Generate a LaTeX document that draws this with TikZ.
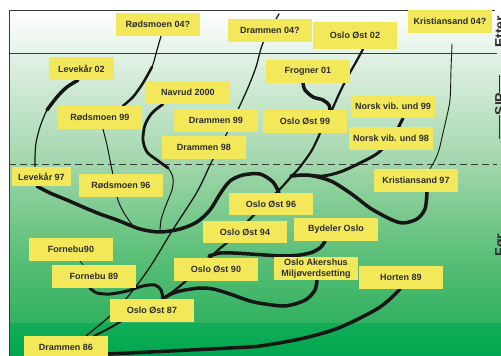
\documentclass[tikz,border=0pt]{standalone}
\usepackage{fontspec}
\setmainfont{Liberation Sans}
\definecolor{boxyellow}{HTML}{F2E85A}
\definecolor{txt}{HTML}{2E2E2E}
\definecolor{curve}{HTML}{161616}
\definecolor{framec}{HTML}{3A3A3A}
\definecolor{gA}{HTML}{E3F2E6}
\definecolor{gB}{HTML}{A0D6AA}
\definecolor{gC}{HTML}{5EC07A}
\definecolor{gD}{HTML}{30B160}
\definecolor{gE}{HTML}{12AD58}
\definecolor{gF}{HTML}{00A650}
\pgfdeclarelayer{back}
\pgfdeclarelayer{mid}
\pgfsetlayers{back,mid,main}
\begin{document}
\begin{tikzpicture}[x=1pt,y=-1pt,
  box/.style={fill=boxyellow, inner sep=0pt, minimum width=84pt, minimum height=23pt,
    font=\bfseries\fontsize{9}{10.5}\selectfont, text=txt, align=center},
  side/.style={rotate=90, anchor=north, inner sep=0pt, text=txt,
    font=\bfseries\fontsize{14}{14}\selectfont},
  br/.style={draw=curve, line cap=round, line join=round},
  thin/.style={br, line width=1pt},
  mid/.style={br, line width=2pt},
  thick/.style={br, line width=3.5pt},
  framel/.style={draw=framec, line width=0.9pt}]
\useasboundingbox (0,0) rectangle (501,356);

% boxes
\node[box] (r04) at (158,24.5) {Rødsmoen 04?};
\node[box] (d04) at (270,30.5) {Drammen 04?};
\node[box, minimum height=27pt] (o02) at (355,35.5) {Oslo Øst 02};
\node[box] (k04) at (450,21.5) {Kristiansand 04?};
\node[box, minimum width=65pt] (l02) at (81.5,68.5) {Levekår 02};
\node[box] (nav) at (188,92.5) {Navrud 2000};
\node[box] (r99) at (100,117.5) {Rødsmoen 99};
\node[box] (d99) at (216,120.5) {Drammen 99};
\node[box] (d98) at (204,147.5) {Drammen 98};
\node[box] (fro) at (308,71.5) {Frogner 01};
\node[box] (o99) at (305,121.5) {Oslo Øst 99};
\node[box] (n99) at (393,106.5) {Norsk vib. und 99};
\node[box] (n98) at (391,138.5) {Norsk vib. und 98};
\node[box] (k97) at (416,180.5) {Kristiansand 97};
\node[box, minimum width=59pt, minimum height=19pt] (l97) at (41.5,176.5) {Levekår 97};
\node[box] (r96) at (121,185.5) {Rødsmoen 96};
\node[box, minimum height=22pt] (o96) at (271,204) {Oslo Øst 96};
\node[box, minimum height=22pt] (o94) at (245,232) {Oslo Øst 94};
\node[box] (byd) at (336,229.5) {Bydeler Oslo};
\node[box] (o90) at (216,269.5) {Oslo Øst 90};
\node[box] (oam) at (316,268.5) {Oslo Akershus\\Miljøverdsetting};
\node[box] (hor) at (401,277.5) {Horten 89};
\node[box] (f90) at (71,249.5) {Fornebu90};
\node[box] (f89) at (94,276.5) {Fornebu 89};
\node[box] (o87) at (152,310.5) {Oslo Øst 87};
\node[box] (d86) at (66,347.5) {Drammen 86};

% side labels
\node[side] (etter) at (495,32) {Etter};
\node[side] (sip) at (495,107) {\rule[5pt]{24pt}{1pt}SIP\rule[5pt]{18pt}{1pt}};
\node[side] (foer) at (495,245) {Før};

% free ends and junctions
\coordinate (d04tip) at (279,14);
\coordinate (k04tail) at (452,44);
\coordinate (j1) at (160,232);
\coordinate (j2) at (133,226);
\coordinate (jx) at (291,176);
\coordinate (j3) at (209,256);

\begin{pgfonlayer}{back}
  \shade[top color=white, bottom color=gA] (9,10) rectangle (501,54);
  \shade[top color=gA, bottom color=gB] (9,53.5) rectangle (501,165);
  \shade[top color=gB, bottom color=gC] (9,164.5) rectangle (501,251);
  \shade[top color=gC, bottom color=gD] (9,250.5) rectangle (501,324);
  \shade[top color=gE, bottom color=gF] (9,323.5) rectangle (501,356);
  \draw[framel] (9,356) -- (9,10) -- (495,10);
  \draw[framel] (9,53) -- (497,53);
  \draw[framel, dash pattern=on 7pt off 4pt] (9,164) -- (497,164);
\end{pgfonlayer}

\begin{pgfonlayer}{mid}
  % Rødsmoen 04? -> Rødsmoen 99
  \draw[br, line width=1.2pt] plot[smooth] coordinates {([xshift=3pt]r04.south) (157,50) (152,67) (143,83) (133,97) ([xshift=23pt]r99.north)};
  \draw[br, line width=2.5pt] plot[smooth] coordinates {(152,67) (143,83) (133,97) ([xshift=23pt]r99.north)};
  % Levekår 02 -> Levekår 97
  \draw[br, line width=1.2pt] plot[smooth] coordinates {([xshift=-3.5pt]l02.south) (67,87) (57,97) (47,110) (40,127) (36,143) (35,157) ([xshift=-6.5pt]l97.north)};
  \draw[thick] plot[smooth] coordinates {([xshift=-3.5pt]l02.south) (67,87) (57,97) (47,110)};
  % Navrud 2000
  \draw[thin] plot[smooth] coordinates {([xshift=-25pt]nav.south) (152,113) (145,125) (143,140) (147,152) (157,160) (168,168) (173,178) (172,190) (166,205) (161,220) (j1)};
  \draw[br, line width=2.8pt] plot[smooth] coordinates {([xshift=-25pt]nav.south) (152,113) (145,125) (143,140) (147,152) (157,160) (168,168)};
  % Rødsmoen 99 -> 96
  \draw[thin] plot[smooth] coordinates {([xshift=3pt]r99.south) (107,145) (110,160) (114,180) (118,200) (124,213) (j2)};
  % Levekår 97 -> Oslo Øst 96
  \draw[thick] plot[smooth] coordinates {([xshift=-4.5pt]l97.south) (50,193) (67,200) (83,207) (100,214) (117,220) (140,229) (160,232) (180,229) (197,222) (210,210) (220,194) (230,181) (243,175) (260,174) (273,182) ([xshift=8pt]o96.north)};
  % Drammen line
  \draw[br, line width=1.3pt] plot[smooth] coordinates {([xshift=20pt]d86.north) (110,316) (130,294) (150,267) (172,231) (197,192) (212,161) (227,133) (247,90) (256,67) (263,43) (d04tip)};
  \draw[mid] plot[smooth] coordinates {([xshift=11pt]o87.north) (150,305) (135,313) (120,322) (106,330) ([xshift=28pt]d86.north)};
  % Oslo Øst line
  \draw[br, line width=2.2pt] plot[smooth] coordinates {([xshift=15pt]o99.south) (312,150) (300,167) (290,178) (282,187) (277,192) (262,207) (247,222) (230,240) (217,251) (200,268) (187,280) (175,290) ([xshift=11pt]o87.north)};
  \draw[br, line width=2.2pt] plot[smooth] coordinates {([xshift=8pt]o02.south) (356,62) (347,78) (340,92) (335,103) ([xshift=27pt]o99.north)};
  \draw[thick] plot[smooth] coordinates {([xshift=-5pt]fro.south) (305,90) (313,97) (323,100) (329,105) ([xshift=25pt]o99.north)};
  % Norsk vib. und 99
  \draw[br, line width=3pt] plot[smooth] coordinates {([xshift=10pt]n99.south) (398,128) (390,140) (378,153) (360,163) (340,172) (323,176) (307,175) (jx)};
  % Kristiansand 97
  \draw[thick] plot[smooth] coordinates {([xshift=11pt]k97.south) (425,209) (417,219) (403,223) (390,219) (370,208) (353,195) (333,182) (318,177) (305,175) (jx)};
  \draw[br, line width=0.9pt] plot[smooth] coordinates {(k04tail) (451,70) (450,100) (446,120) (443,133) (439,150) (435,160) ([xshift=14pt]k97.north)};
  % Bydeler Oslo
  \draw[thick] plot[smooth] coordinates {([xshift=-11pt]byd.south) (321,247) (313,252) (300,255) (283,256) (265,255) (250,254) (233,253) (220,253) (j3)};
  % Oslo Akershus Miljøverdsetting
  \draw[thick] plot[smooth] coordinates {([xshift=1pt]oam.south) (315,290) (307,299) (295,304) (283,306) (265,304) (250,301) (227,293) (213,289) (200,288) (185,290) (173,293) ([xshift=11pt]o87.north)};
  % Fornebu
  \draw[br, line width=3pt] plot[smooth] coordinates {([xshift=-4pt]f89.south) (97,293) (110,294) (127,291) (143,286) (155,285) (161,290) ([xshift=11pt]o87.north)};
  \draw[br, line width=0.8pt] ([xshift=9pt]f90.south) -- ([xshift=-11pt]f89.north);
  % Horten
  \draw[thick] plot[smooth] coordinates {([yshift=-6.5pt]d86.east) (150,352) (190,350) (230,348) (260,346) (300,339) (330,331) (350,323) (377,309) (390,299) ([xshift=-1pt]hor.south)};
\end{pgfonlayer}
\end{tikzpicture}
\end{document}
